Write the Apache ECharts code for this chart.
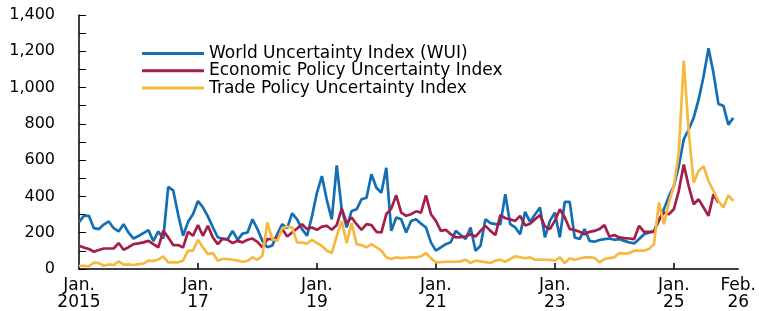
<!DOCTYPE html>
<html>
<head>
    <meta charset="UTF-8" />
    <title>Uncertainty indices</title>
    <script src="https://cdn.jsdelivr.net/npm/echarts@6/dist/echarts.min.js"></script>
    <style>
        html, body { margin: 0; padding: 0; background: #fff; }
        #chart { width: 759px; height: 311px; }
    </style>
</head>
<body>
    <div id="chart"></div>
    <script type="text/javascript">
        // monthly, Jan 2015 .. Feb 2026 (134 months)
        var startYear = 2015;
        var monthCount = 134;

        var wui = [
            258, 293, 293, 225, 220, 245, 262, 225, 207, 247, 200, 168,
            182, 198, 214, 154, 207, 168, 452, 434, 300, 183, 260, 302,
            375, 340, 290, 230, 175, 165, 165, 210, 161, 195, 201, 274,
            220, 155, 120, 130, 192, 247, 225, 307, 274, 220, 183, 290,
            420, 512, 380, 274, 571, 330, 229, 320, 329, 384, 393, 522,
            448, 420, 558, 210, 284, 274, 201, 265, 274, 250, 229, 147,
            101, 119, 137, 147, 210, 187, 165, 229, 101, 128, 274, 253,
            247, 247, 412, 247, 229, 192, 315, 260, 300, 339, 174, 265,
            311, 174, 370, 370, 174, 165, 220, 155, 150, 160, 165, 168,
            161, 165, 155, 147, 141, 165, 192, 200, 210, 265, 330, 400,
            457, 567, 714, 769, 833, 933, 1061, 1217, 1080, 910, 900, 796,
            833, null
        ];
        var epu = [
            128, 118, 110, 95, 105, 113, 113, 113, 143, 106, 120, 137,
            141, 147, 155, 137, 119, 210, 174, 132, 132, 119, 205, 183,
            242, 183, 238, 174, 137, 168, 161, 143, 155, 147, 161, 168,
            150, 119, 165, 165, 168, 220, 179, 201, 223, 247, 220, 229,
            216, 234, 238, 216, 242, 333, 253, 284, 247, 216, 247, 242,
            205, 201, 302, 333, 406, 311, 293, 302, 318, 311, 406, 302,
            265, 210, 216, 192, 174, 176, 179, 192, 179, 210, 238, 210,
            187, 297, 280, 274, 265, 293, 240, 250, 274, 297, 234, 220,
            265, 329, 284, 220, 215, 205, 192, 205, 210, 220, 242, 179,
            187, 174, 170, 168, 165, 238, 205, 205, 205, 274, 311, 302,
            329, 430, 576, 457, 357, 384, 339, 293, 412, 366, null, null,
            null, null
        ];
        var tpu = [
            18, 17, 15, 35, 33, 18, 25, 22, 42, 24, 25, 22,
            27, 30, 46, 45, 52, 70, 37, 37, 37, 46, 101, 101,
            161, 119, 82, 88, 46, 55, 55, 51, 46, 40, 45, 64,
            51, 73, 256, 165, 155, 225, 234, 229, 147, 145, 140, 161,
            143, 128, 101, 88, 183, 265, 143, 253, 137, 132, 119, 137,
            119, 101, 64, 55, 64, 60, 62, 64, 64, 70, 88, 60,
            37, 38, 40, 40, 40, 42, 51, 33, 46, 42, 38, 33,
            46, 51, 40, 55, 70, 65, 59, 64, 51, 52, 51, 50,
            46, 64, 33, 59, 51, 58, 64, 64, 62, 37, 55, 60,
            64, 88, 85, 88, 101, 101, 101, 110, 137, 366, 247, 366,
            457, 640, 1149, 760, 476, 540, 567, 485, 430, 375, 339, 406,
            375, null
        ];

        var seriesNames = [
            'World Uncertainty Index (WUI)',
            'Economic Policy Uncertainty Index',
            'Trade Policy Uncertainty Index'
        ];
        var seriesColors = ['#146eb4', '#a51e4b', '#f5b941'];

        // x tick labels and where they go
        var labelIndex = [0, 24, 48, 72, 96, 120, 133];
        var labelText = ['Jan.\n2015', 'Jan.\n17', 'Jan.\n19', 'Jan.\n21', 'Jan.\n23', 'Jan.\n25', 'Feb.\n26'];
        var tickIndex = [24, 48, 72, 96, 120];

        var months = [];
        for (var i = 0; i < monthCount; i++) {
            var y = startYear + Math.floor(i / 12);
            var m = (i % 12) + 1;
            months.push(y + '-' + (m < 10 ? '0' + m : m));
        }

        var font = '"DejaVu Sans", "Liberation Sans", Arial, sans-serif';
        var chart = echarts.init(document.getElementById('chart'));

        var option = {
            animation: false,
            backgroundColor: '#fff',
            grid: { left: 79, right: 20, top: 15, bottom: 41, containLabel: false },
            legend: {
                orient: 'vertical',
                left: 142,
                top: 45,
                padding: 0,
                itemWidth: 62,
                itemHeight: 3,
                itemGap: 0.3,
                icon: 'rect',
                textStyle: { fontFamily: font, fontSize: 17, lineHeight: 16, color: '#000' },
                data: seriesNames
            },
            xAxis: {
                type: 'category',
                data: months,
                boundaryGap: false,
                axisLine: { lineStyle: { color: '#000', width: 1.5 } },
                axisTick: {
                    inside: true,
                    length: 6,
                    lineStyle: { color: '#000', width: 1.5 },
                    interval: function (index) { return tickIndex.indexOf(index) >= 0; }
                },
                axisLabel: {
                    interval: function (index) { return labelIndex.indexOf(index) >= 0; },
                    formatter: function (value, index) {
                        var k = labelIndex.indexOf(index);
                        return k >= 0 ? labelText[k] : '';
                    },
                    margin: 8,
                    fontFamily: font,
                    fontSize: 17,
                    lineHeight: 17,
                    color: '#000'
                },
                splitLine: { show: false }
            },
            yAxis: {
                type: 'value',
                min: 0,
                max: 1400,
                interval: 200,
                axisLine: { show: true, lineStyle: { color: '#000', width: 1.5 } },
                axisTick: { show: true, inside: true, length: 7, lineStyle: { color: '#000', width: 1 } },
                minorTick: { show: true, splitNumber: 2, length: 7, lineStyle: { color: '#000', width: 1 } },
                axisLabel: {
                    margin: 24,
                    fontFamily: font,
                    fontSize: 16,
                    color: '#000',
                    formatter: function (v) { return v.toLocaleString('en-US'); }
                },
                splitLine: { show: false }
            },
            series: [wui, epu, tpu].map(function (d, k) {
                return {
                    name: seriesNames[k],
                    type: 'line',
                    data: d,
                    showSymbol: false,
                    symbol: 'none',
                    color: seriesColors[k],
                    lineStyle: { width: 2.7, color: seriesColors[k] },
                    z: 2 + k
                };
            })
        };
        chart.setOption(option);
    </script>
</body>
</html>
